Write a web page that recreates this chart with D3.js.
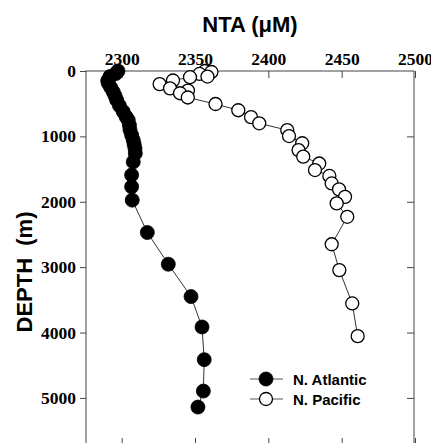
<!DOCTYPE html>
<html>
<head>
<meta charset="utf-8">
<script src="https://cdn.jsdelivr.net/npm/d3@7"></script>
<style>
  html, body { margin: 0; padding: 0; background: #fff; }
  svg { display: block; }
  .tl { font-family: "Liberation Serif", "Times New Roman", "DejaVu Serif", serif; font-weight: bold; font-size: 17.5px; }
</style>
</head>
<body>
<svg id="chart" width="431" height="443"></svg>
<script>
// ---- data ----
const atlDepth = [0, 40, 85, 150, 190, 250, 320, 380, 445, 530, 620, 700, 750, 830, 900, 980, 1056, 1120, 1183, 1260, 1390, 1590, 1770, 1975, 2470, 2955, 3450, 3915, 4415, 4895, 5140];
const atlNTA   = [2297.5, 2296, 2292, 2290.5, 2291, 2292.5, 2294.3, 2295.5, 2296.6, 2298.5, 2301, 2303, 2304.5, 2305.3, 2305.7, 2306.8, 2307.9, 2308.5, 2309.1, 2309.3, 2307.9, 2306.8, 2306.8, 2307.2, 2317.5, 2331.8, 2347.3, 2354.8, 2356.3, 2355.7, 2352];

const pacDepth = [0, 15, 45, 85, 95, 145, 200, 265, 300, 340, 405, 505, 600, 705, 800, 905, 995, 1105, 1210, 1310, 1415, 1515, 1605, 1720, 1810, 1925, 2025, 2230, 2650, 3045, 3555, 4055];
const pacNTA   = [2356.8, 2361.2, 2353.1, 2358.5, 2346.6, 2335.0, 2325.9, 2333.0, 2345.2, 2339.8, 2345.1, 2364.0, 2379.5, 2388.2, 2393.8, 2412.9, 2414.1, 2423.1, 2420.6, 2423.8, 2434.7, 2431.8, 2441.6, 2443.2, 2448.2, 2452.3, 2446.6, 2453.8, 2443.2, 2448.4, 2457.2, 2460.9];

const xTicks = [2300, 2350, 2400, 2450, 2500];
const yTicks = [0, 1000, 2000, 3000, 4000, 5000];
const seriesNames = ["N. Atlantic", "N. Pacific"];
const xTitle = "NTA (\u03BCM)";
const yTitle = "DEPTH  (m)";

// ---- layout ----
const svg = d3.select("#chart");
const L = 86, R = 414, T = 71, B = 445;
const x = d3.scaleLinear().domain([2275.7, 2499.3]).range([L, R]);
const y = d3.scaleLinear().domain([0, 5720]).range([T, B]);

const axisColor = "#444";
const sans = "'Liberation Sans', Arial, sans-serif";

function styleAxis(g) {
  g.attr("font-family", null).attr("font-size", null);
  g.select(".domain").remove();
  g.selectAll(".tick line").attr("stroke", axisColor).attr("stroke-width", 1);
  g.selectAll(".tick text").attr("fill", "#000").attr("class", "tl");
}

// top axis with labels, ticks inward
svg.append("g").attr("transform", `translate(0,${T})`)
  .call(d3.axisTop(x).tickValues(xTicks).tickSizeInner(-7).tickSizeOuter(0).tickPadding(6).tickFormat(d3.format("d")))
  .call(styleAxis);

// bottom axis ticks inward, no labels
svg.append("g").attr("transform", `translate(0,${B})`)
  .call(d3.axisBottom(x).tickValues(xTicks).tickSizeInner(-7).tickSizeOuter(0).tickFormat(""))
  .call(styleAxis);

// left axis, ticks outward
svg.append("g").attr("transform", `translate(${L},0)`)
  .call(d3.axisLeft(y).tickValues(yTicks).tickSizeInner(6).tickSizeOuter(0).tickPadding(4).tickFormat(d3.format("d")))
  .call(styleAxis);

// right axis ticks inward
svg.append("g").attr("transform", `translate(${R},0)`)
  .call(d3.axisRight(y).tickValues(yTicks.slice(1)).tickSizeInner(-7).tickSizeOuter(0).tickFormat(""))
  .call(styleAxis);

// frame
svg.append("rect").attr("x", L).attr("y", T).attr("width", R - L).attr("height", B - T)
  .attr("fill", "none").attr("stroke", axisColor).attr("stroke-width", 1);

// titles
svg.append("text").attr("x", (L + R) / 2).attr("y", 31.5).attr("text-anchor", "middle")
  .style("font-family", sans).style("font-weight", "bold").style("font-size", "22px")
  .text(xTitle);
svg.append("text").attr("transform", `translate(32,272) rotate(-90)`).attr("text-anchor", "middle")
  .style("font-family", sans).style("font-weight", "bold").style("font-size", "22px")
  .style("white-space", "pre").attr("xml:space", "preserve")
  .text(yTitle);

// series
const line = d3.line().x(d => x(d[1])).y(d => y(d[0]));
const atl = atlDepth.map((d, i) => [d, atlNTA[i]]);
const pac = pacDepth.map((d, i) => [d, pacNTA[i]]);

const plot = svg.append("g");
plot.append("path").datum(atl).attr("d", line).attr("fill", "none").attr("stroke", "#333").attr("stroke-width", 1);
plot.append("path").datum(pac).attr("d", line).attr("fill", "none").attr("stroke", "#333").attr("stroke-width", 1);

plot.selectAll("circle.atl").data(atl).join("circle").attr("class", "atl")
  .attr("cx", d => x(d[1])).attr("cy", d => y(d[0])).attr("r", 7)
  .attr("fill", "#000").attr("stroke", "#000").attr("stroke-width", 0.8);
plot.selectAll("circle.pac").data(pac).join("circle").attr("class", "pac")
  .attr("cx", d => x(d[1])).attr("cy", d => y(d[0])).attr("r", 6.5)
  .attr("fill", "#fff").attr("stroke", "#000").attr("stroke-width", 1.3);

// legend
const leg = svg.append("g");
seriesNames.forEach((name, i) => {
  const ly = 379 + i * 20;
  leg.append("line").attr("x1", 250).attr("x2", 283).attr("y1", ly).attr("y2", ly)
    .attr("stroke", "#555").attr("stroke-width", 1);
  leg.append("circle").attr("cx", 266).attr("cy", ly).attr("r", i === 0 ? 7 : 6.5)
    .attr("fill", i === 0 ? "#000" : "#fff").attr("stroke", "#000").attr("stroke-width", i === 0 ? 0.8 : 1.3);
  leg.append("text").attr("x", 293).attr("y", ly + 5.5)
    .style("font-family", sans).style("font-weight", "bold").style("font-size", "15px")
    .text(name);
});
</script>
</body>
</html>
